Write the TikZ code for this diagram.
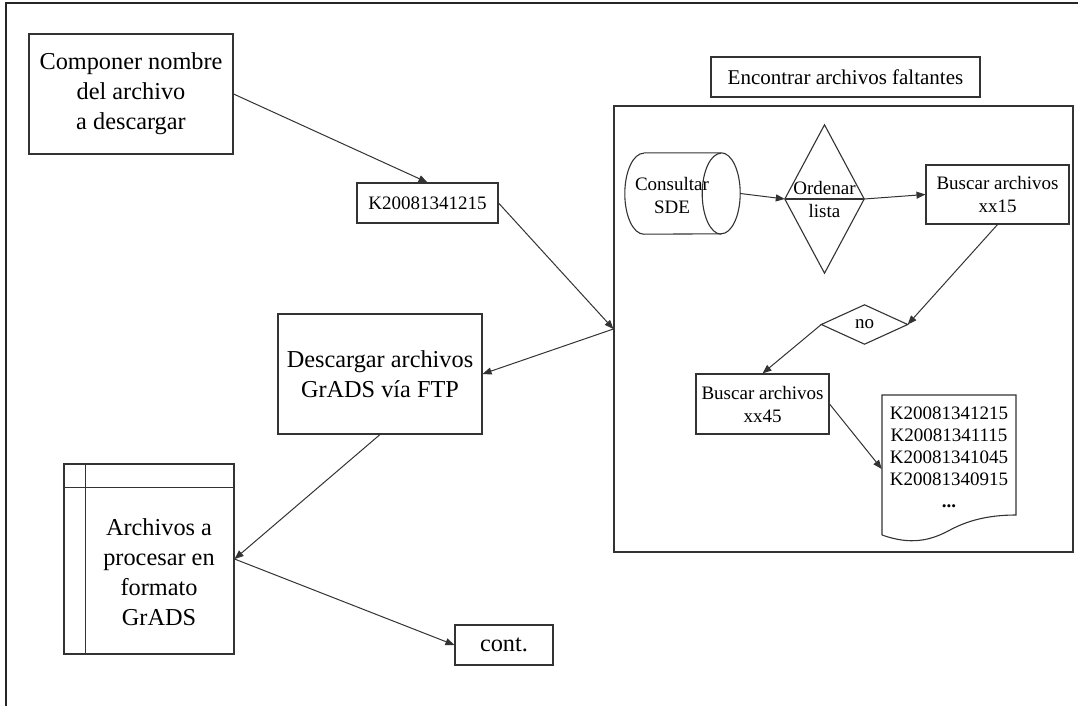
\documentclass[tikz,border=0pt]{standalone}
\usepackage{fontspec}
\setmainfont{Liberation Serif}
\usetikzlibrary{arrows.meta}
\begin{document}
\begin{tikzpicture}[x=1pt,y=-1pt,
  ln/.style={draw=black!80, line width=1.1pt},
  box/.style={ln, rectangle, inner sep=0pt, align=center},
  ghost/.style={rectangle, inner sep=0pt, align=center},
  bigtxt/.style={font=\fontsize{24.3}{30}\selectfont},
  smtxt/.style={font=\fontsize{19}{23}\selectfont},
  arr/.style={draw=black!80, line width=1pt, -{Triangle[length=9pt,width=7pt]}}]
\fill[white] (0,0) rectangle (1078,706);
\useasboundingbox (0,0) rectangle (1078,706);
% frame
\draw[line width=1.2pt, black!85] (1078,3) -- (6,3) -- (6,706);

% left part
\node[box, bigtxt, minimum width=204, minimum height=120] (comp) at (131,94) {Componer nombre\\del archivo\\a descargar};
\node[box, smtxt, minimum width=141, minimum height=40] (k) at (427.5,203) {K20081341215};
\node[box, bigtxt, minimum width=204, minimum height=120] (desc) at (380,374) {Descargar archivos\\GrADS vía FTP};
\node[box, minimum width=170, minimum height=190] (stor) at (149,559) {};
\draw[ln] ([xshift=22pt]stor.north west) -- ([xshift=22pt]stor.south west);
\draw[ln] ([yshift=-24pt]stor.north west) -- ([yshift=-24pt]stor.north east);
\node[ghost, bigtxt] (stortext) at (159,572) {Archivos a\\procesar en\\formato\\GrADS};
\node[box, bigtxt, minimum width=98, minimum height=40] (cont) at (504,645) {cont.};

% right part
\node[box, font=\fontsize{21}{25}\selectfont, minimum width=269, minimum height=40] (enc) at (845.5,77) {Encontrar archivos faltantes};
\node[box, minimum width=459, minimum height=446] (big) at (843.5,329) {};

\node[ghost, minimum width=115, minimum height=81] (cyl) at (682.5,193.5) {};
\draw[ln] ([xshift=19pt]cyl.north west) -- ([xshift=-19pt]cyl.north east)
  arc[start angle=-90, end angle=90, x radius=19, y radius=40.5]
  -- ([xshift=19pt]cyl.south west)
  arc[start angle=90, end angle=270, x radius=19, y radius=40.5];
\draw[ln] ([xshift=-19pt]cyl.south east) arc[start angle=90, end angle=270, x radius=19, y radius=40.5];
\node[ghost, smtxt] (cyltext) at (672,195) {Consultar\\SDE};

\node[ghost, smtxt, minimum width=79, minimum height=148] (sort) at (824.5,199) {Ordenar\\lista};
\draw[ln] (sort.north) -- (sort.east) -- (sort.south) -- (sort.west) -- cycle;
\draw[ln] (sort.west) -- (sort.east);

\node[box, smtxt, minimum width=143, minimum height=59] (b1) at (997.5,194.5) {Buscar archivos\\xx15};
\node[ghost, smtxt, minimum width=86, minimum height=39] (no) at (864.5,324.5) {no};
\draw[ln] (no.north) -- (no.east) -- (no.south) -- (no.west) -- cycle;
\node[box, smtxt, minimum width=133, minimum height=60] (b2) at (762.5,404) {Buscar archivos\\xx45};

\node[ghost, minimum width=134, minimum height=148] (doc) at (949,469) {};
\draw[ln] (882,535) -- (882,395) -- (1016,395) -- (1016,515)
  .. controls (985,515) and (965,522) .. (950,530)
  .. controls (930,541) and (910,545) .. (882,535);
\node[ghost, font=\fontsize{19}{22}\selectfont] (doctext) at (949,457) {K20081341215\\K20081341115\\K20081341045\\K20081340915\\\textbf{...}};

% connectors
\draw[arr] (comp.east) -- (k.north);
\draw[arr] (k.east) -- (big.west);
\draw[arr] (big.west) -- (desc.east);
\draw[arr] (desc.south) -- (stor.east);
\draw[arr] (stor.east) -- (cont.west);
\draw[arr] (cyl.east) -- (sort.west);
\draw[arr] (sort.east) -- (b1.west);
\draw[arr] (b1.south) -- (no.east);
\draw[arr] (no.west) -- (b2.north);
\draw[arr] (b2.east) -- (doc.west);
\end{tikzpicture}
\end{document}
